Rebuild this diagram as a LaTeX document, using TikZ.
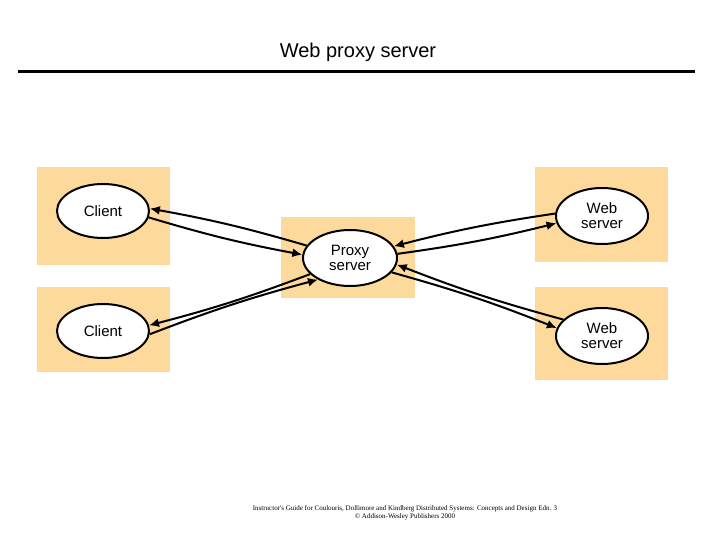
\documentclass[tikz,border=0pt]{standalone}
\usepackage{fontspec}
\usetikzlibrary{shapes.geometric,arrows.meta}
\setmainfont{Liberation Sans}
\newfontfamily\footfont{Liberation Serif}
\definecolor{panelfill}{RGB}{253,218,155}
\begin{document}
\begin{tikzpicture}[x=1pt, y=-1pt,
        panel/.style={fill=panelfill, draw=none},
        host/.style={ellipse, draw, line width=2pt, fill=white, minimum width=94pt, minimum height=56pt, align=center, font=\fontsize{15}{16}\selectfont, inner sep=0pt},
        arrow/.style={draw, line width=2pt, -{Latex[length=10pt,width=9pt]}}
    ]
    \useasboundingbox (0,0) rectangle (720,540);
    % Title
    \node (title) at (358,52) {\fontsize{20}{22}\selectfont Web proxy server};
    \draw[line width=3pt] (18,72) -- (695,72);
    
    % Panels
    \fill[panel] (37,167) rectangle (170,265);
    \fill[panel] (37,287) rectangle (170,372);
    \fill[panel] (281,217) rectangle (415,298);
    \fill[panel] (535,167) rectangle (668,262);
    \fill[panel] (535,287) rectangle (668,380);
    
    % Nodes
    \node[host, minimum width=92pt, minimum height=54pt] (client1) at (103,211) {Client};
    \node[host, minimum width=92pt, minimum height=54pt] (client2) at (103,331) {Client};
    \node[host] (proxy) at (350,258) {Proxy\\[-1pt]server};
    \node[host, minimum width=92pt] (web1) at (602,216) {Web\\[-1pt]server};
    \node[host, minimum width=92pt] (web2) at (602,336) {Web\\[-1pt]server};
    
    % Arrows connecting nodes
    \draw[arrow] (proxy.164) to[bend right=3] (client1.3);
    \draw[arrow] (client1.-8) to[bend right=3] (proxy.176);
    \draw[arrow] (proxy.202) to[bend left=3] (client2.7);
    \draw[arrow] (client2.-4) to[bend left=3] (proxy.214);
    \draw[arrow] (web1.177) to[bend right=3] (proxy.15);
    \draw[arrow] (proxy.5) to[bend right=3] (web1.189);
    \draw[arrow] (web2.157) to[bend left=3] (proxy.-8);
    \draw[arrow] (proxy.-19) to[bend left=3] (web2.170);
    
    % Footer
    \node[font=\footfont\fontsize{7}{8}\selectfont, align=center] (foot) at (405,513) {Instructor's Guide for Coulouris, Dollimore and Kindberg Distributed Systems: Concepts and Design Edn. 3\\\textcopyright{} Addison-Wesley Publishers 2000};
\end{tikzpicture}
\end{document}
